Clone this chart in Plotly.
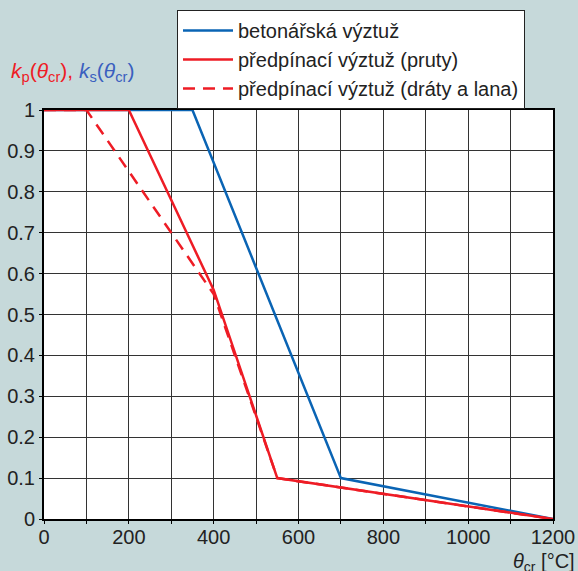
import plotly.graph_objects as go

# Data
rebar_x = [0, 350, 700, 1200]
rebar_y = [1.0, 1.0, 0.1, 0.0]
bars_x = [0, 200, 400, 550, 1200]
bars_y = [1.0, 1.0, 0.56, 0.1, 0.0]
wires_x = [0, 100, 400, 550, 1200]
wires_y = [1.0, 1.0, 0.55, 0.1, 0.0]

names = ["betonářská výztuž", "předpínací výztuž (pruty)", "předpínací výztuž (dráty a lana)"]

x_ticks = list(range(0, 1201, 100))
x_labels = [str(v) if v % 200 == 0 else "" for v in x_ticks]
y_ticks = [i / 10 for i in range(11)]
y_labels = ["0", "0.1", "0.2", "0.3", "0.4", "0.5", "0.6", "0.7", "0.8", "0.9", "1"]

BLUE = "#0a64b4"
RED = "#ee1c25"
BG = "#c6d9da"
TXT = "#222222"
FONT = "Liberation Sans, Arial, sans-serif"

fig = go.Figure()
fig.add_trace(go.Scatter(x=rebar_x, y=rebar_y, mode="lines", name=names[0],
                         line=dict(color=BLUE, width=2.5)))
fig.add_trace(go.Scatter(x=bars_x, y=bars_y, mode="lines", name=names[1],
                         line=dict(color=RED, width=2.5)))
fig.add_trace(go.Scatter(x=wires_x, y=wires_y, mode="lines", name=names[2],
                         line=dict(color=RED, width=2.5, dash="12px,8px")))

W, H = 578, 571
L, R, T, B = 44, 25, 110, 52
pw = W - L - R
ph = H - T - B

fig.update_layout(
    width=W, height=H,
    margin=dict(l=L, r=R, t=T, b=B, autoexpand=False),
    paper_bgcolor=BG, plot_bgcolor="white",
    font=dict(family=FONT, size=20, color=TXT),
    showlegend=True,
    legend=dict(
        x=(177 - L) / pw, y=(H - B - 10) / ph, xanchor="left", yanchor="top",
        bgcolor="white", bordercolor="#222222", borderwidth=1,
        font=dict(family=FONT, size=20, color=TXT),
        tracegroupgap=0, itemwidth=50,
    ),
    xaxis=dict(
        range=[0, 1200], tickvals=x_ticks, ticktext=x_labels,
        showgrid=True, gridcolor="#333333", gridwidth=1,
        showline=True, linecolor="black", linewidth=2, mirror=True,
        ticks="outside", ticklen=3, tickcolor="black", ticklabelstandoff=-4,
        zeroline=False, tickfont=dict(size=20, color=TXT), automargin=False,
    ),
    yaxis=dict(
        range=[0, 1], tickvals=y_ticks, ticktext=y_labels,
        showgrid=True, gridcolor="#333333", gridwidth=1,
        showline=True, linecolor="black", linewidth=2, mirror=True,
        ticks="outside", ticklen=3, tickcolor="black",
        zeroline=False, tickfont=dict(size=20, color=TXT), automargin=False,
    ),
)

ytitle = ("<span style='color:%s'><i>k</i><sub>p</sub>(<i>θ</i><sub>cr</sub>)</span>"
          "<span style='color:%s'>, </span>"
          "<span style='color:%s'><i>k</i><sub>s</sub>(<i>θ</i><sub>cr</sub>)</span>") % (RED, RED, "#3a5fbf")
fig.add_annotation(text=ytitle, xref="paper", yref="paper",
                   x=(9 - L) / pw, y=(H - B - 72) / ph, xanchor="left", yanchor="middle",
                   showarrow=False, font=dict(family=FONT, size=21))
fig.add_annotation(text="<i>θ</i><sub>cr</sub> [°C]", xref="paper", yref="paper",
                   x=(577 - L) / pw, y=(H - B - 562) / ph, xanchor="right", yanchor="middle",
                   showarrow=False, font=dict(family=FONT, size=20, color=TXT))

fig.write_html(
    "out.html",
    config={"displayModeBar": False},
    post_script="document.body.style.margin='0';document.body.style.background='%s';" % BG,
)
